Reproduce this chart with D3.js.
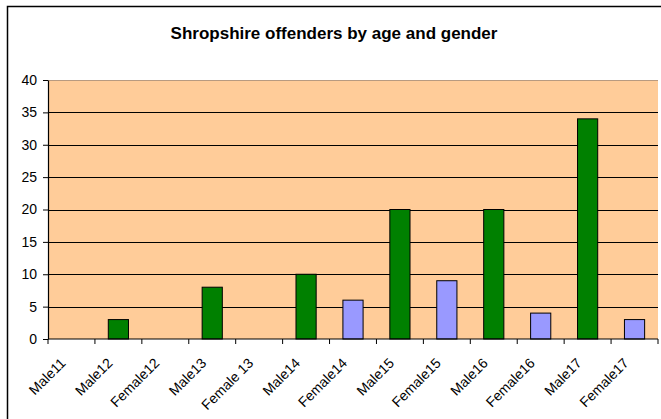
<!DOCTYPE html>
<html>
<head>
<meta charset="utf-8">
<script src="https://cdn.jsdelivr.net/npm/d3@7"></script>
<style>
  body { margin: 0; background: #fff; }
  text { font-family: "Liberation Sans", Arial, sans-serif; }
</style>
</head>
<body>
<div id="chart"></div>
<script>
// values
var categories = ["Male11", "Male12", "Female12", "Male13", "Female 13", "Male14", "Female14",
                  "Male15", "Female15", "Male16", "Female16", "Male17", "Female17"];
var counts = [0, 3, 0, 8, 0, 10, 6, 20, 9, 20, 4, 34, 3];
var genders = ["M", "M", "F", "M", "F", "M", "F", "M", "F", "M", "F", "M", "F"];
var yTicks = [0, 5, 10, 15, 20, 25, 30, 35, 40];

var width = 661, height = 419;
var margin = {top: 80, right: 3, bottom: 80, left: 48};

var svg = d3.select("#chart").append("svg")
  .attr("width", width)
  .attr("height", height);

// outer chart border (only left and top show in the crop)
svg.append("rect")
  .attr("x", 7.5).attr("y", 6.5)
  .attr("width", 700).attr("height", 500)
  .style("fill", "none")
  .style("stroke", "#000")
  .style("stroke-width", 1.5);

svg.append("text")
  .attr("x", 334).attr("y", 39)
  .style("text-anchor", "middle")
  .style("font-size", "17px")
  .style("font-weight", "bold")
  .text("Shropshire offenders by age and gender");

var x = d3.scaleBand()
  .domain(categories)
  .range([margin.left, width - margin.right])
  .paddingInner(0.57)
  .paddingOuter(0.285);

var y = d3.scaleLinear()
  .domain([0, 40])
  .range([height - margin.bottom, margin.top]);

// plot area
svg.append("rect")
  .attr("x", margin.left).attr("y", y(40))
  .attr("width", width - margin.right - margin.left)
  .attr("height", y(0) - y(40))
  .style("fill", "#FFCC99");

// gridlines
svg.selectAll("line.grid")
  .data(yTicks.slice(1))
  .enter()
  .append("line")
  .attr("class", "grid")
  .attr("x1", margin.left).attr("x2", width - margin.right)
  .attr("y1", function(d) { return Math.round(y(d)) + 0.5; })
  .attr("y2", function(d) { return Math.round(y(d)) + 0.5; })
  .style("stroke", function(d) { return d == 40 ? "#b89a80" : "#000"; })
  .style("stroke-width", 1.2);

// bars
svg.selectAll("rect.bar")
  .data(categories)
  .enter()
  .append("rect")
  .attr("class", "bar")
  .attr("x", function(d) { return x(d); })
  .attr("width", x.bandwidth())
  .attr("y", function(d, i) { return y(counts[i]); })
  .attr("height", function(d, i) { return y(0) - y(counts[i]); })
  .style("fill", function(d, i) { return genders[i] == "M" ? "#008000" : "#9999FF"; })
  .style("stroke", "#000")
  .style("stroke-width", 1)
  .style("display", function(d, i) { return counts[i] > 0 ? null : "none"; });

// y axis
var yAxis = d3.axisLeft(y).tickValues(yTicks).tickSize(5).tickSizeOuter(0);
var gy = svg.append("g")
  .attr("transform", "translate(" + margin.left + ",0)")
  .call(yAxis);
gy.select(".domain").style("stroke", "#000").style("stroke-width", 1.2);
gy.selectAll("text")
  .style("font-size", "14px")
  .style("font-family", "'Liberation Sans', Arial, sans-serif")
  .style("fill", "#000")
  .attr("x", -11);

// x axis: ticks between categories
var tickPos = d3.range(categories.length + 1).map(function(i) {
  return margin.left + i * (width - margin.right - margin.left) / categories.length;
});
var gx = svg.append("g");
gx.append("line")
  .attr("x1", margin.left).attr("x2", width - margin.right)
  .attr("y1", y(0)).attr("y2", y(0))
  .style("stroke", "#000").style("stroke-width", 1.2);
gx.selectAll("line.tick")
  .data(tickPos)
  .enter()
  .append("line")
  .attr("class", "tick")
  .attr("x1", function(d) { return d; }).attr("x2", function(d) { return d; })
  .attr("y1", y(0)).attr("y2", y(0) + 5)
  .style("stroke", "#000");

gx.selectAll("text")
  .data(categories)
  .enter()
  .append("text")
  .attr("transform", function(d) {
    var ex = x(d) + x.bandwidth() / 2 - 5;
    return "translate(" + ex + "," + (y(0) + 25) + ") rotate(-45)";
  })
  .style("text-anchor", "end")
  .style("font-size", "14px")
  .text(function(d) { return d; });
</script>
</body>
</html>
